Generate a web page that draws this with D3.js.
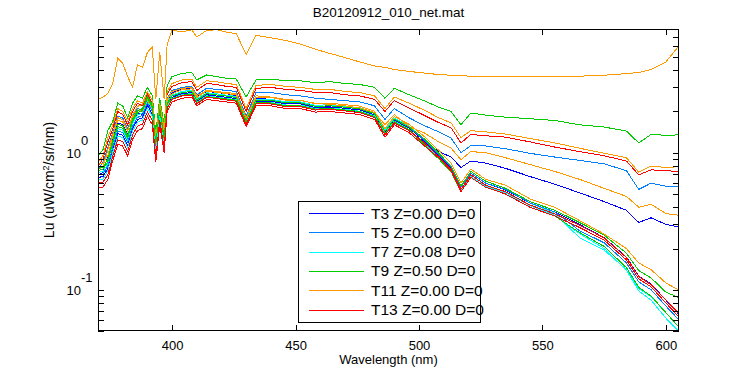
<!DOCTYPE html>
<html>
<head>
<meta charset="utf-8">
<script src="https://cdn.jsdelivr.net/npm/d3@7"></script>
<style>
body { margin: 0; background: #fff; }
text { font-family: "Liberation Sans", Arial, sans-serif; fill: #000; }
</style>
</head>
<body>
<svg width="750" height="375"></svg>
<script>
// wavelength grid (nm) shared by all casts
var wavelength = [370, 372, 374, 376, 378, 380, 382, 384, 386, 388, 390, 392, 393.4, 395, 396.8, 398,
	400, 404, 408, 410, 414, 418, 422, 426, 430, 434, 440, 446, 452, 458, 464, 470, 476, 482, 486.2, 490, 496,
	502, 508, 513, 517, 521, 527, 535, 545, 555, 565, 575, 584, 589, 594, 600, 605];

// Lu per cast
var t3 = [0.68,0.72,0.95,1.25,1.65,1.6,1.35,1.7,1.95,1.9,2.35,2.0,1.0,1.9,1.2,2.4,
	2.75,2.9,2.95,2.55,2.8,2.75,2.7,2.6,1.75,2.5,2.45,2.35,2.3,2.2,2.15,2.05,1.98,1.85,1.45,1.75,1.45,
	1.2,1.02,0.93,0.78,0.87,0.84,0.77,0.67,0.59,0.51,0.44,0.38,0.31,0.335,0.3,0.288];
var t5 = [0.75,0.85,1.1,1.4,1.85,1.8,1.5,1.85,2.1,2.05,2.5,2.15,1.1,2.05,1.3,2.5,
	2.85,3.0,3.05,2.65,2.95,2.9,2.85,2.8,1.85,2.75,2.75,2.65,2.6,2.5,2.45,2.4,2.35,2.2,1.75,2.1,1.8,
	1.58,1.42,1.28,1.0,1.13,1.12,1.07,0.99,0.93,0.88,0.83,0.74,0.54,0.6,0.57,0.565];
var t7 = [0.72,0.73,0.83,1.14,1.5,1.46,1.24,1.63,1.89,1.95,2.4,2.08,1.1,2.08,1.3,2.36,
	2.63,2.8,2.86,2.46,2.74,2.69,2.63,2.58,1.74,2.46,2.46,2.35,2.35,2.22,2.24,2.18,2.13,1.96,1.46,1.79,1.57,
	1.24,0.97,0.79,0.56,0.71,0.6,0.54,0.43,0.36,0.24,0.195,0.14,0.102,0.089,0.068,0.054];
var t9 = [0.95,1.05,1.45,1.7,2.3,2.2,1.8,2.3,2.6,2.5,3.0,2.6,1.4,2.5,1.6,3.1,
	3.6,3.8,3.85,3.4,3.7,3.6,3.5,3.45,2.55,3.4,3.45,3.35,3.35,3.25,3.3,3.2,3.15,3.0,2.5,2.95,2.65,
	2.4,2.15,2.0,1.6,1.95,1.88,1.82,1.77,1.72,1.6,1.54,1.44,1.18,1.36,1.34,1.35];
var t11 = [2.45,2.55,2.7,3.2,4.9,4.5,3.6,3.0,4.4,4.2,5.4,5.9,2.45,5.4,2.45,6.2,
	7.9,7.6,7.9,7.0,7.8,7.9,7.6,7.4,5.2,7.2,6.9,6.6,6.2,5.7,5.3,4.95,4.6,4.3,4.2,4.05,3.92,
	3.82,3.72,3.68,3.65,3.62,3.6,3.58,3.58,3.6,3.62,3.68,3.78,3.85,4.05,4.6,5.95];
var t13 = [0.8,0.9,1.2,1.5,2.0,1.9,1.6,2.0,2.3,2.2,2.7,2.3,1.2,2.2,1.4,2.7,
	3.05,3.25,3.3,2.85,3.2,3.15,3.05,3.0,2.0,2.95,3.0,2.9,2.85,2.75,2.75,2.65,2.6,2.45,2.0,2.4,2.12,
	1.88,1.66,1.52,1.18,1.36,1.33,1.3,1.2,1.1,1.02,0.95,0.87,0.69,0.75,0.74,0.73];
var t15 = [0.85,0.95,1.3,1.6,2.1,2.0,1.7,2.1,2.4,2.3,2.8,2.4,1.3,2.3,1.5,2.8,
	3.2,3.4,3.45,3.0,3.35,3.3,3.2,3.15,2.1,3.1,3.15,3.05,3.0,2.9,2.9,2.8,2.75,2.6,2.1,2.55,2.3,
	2.05,1.8,1.65,1.29,1.45,1.42,1.37,1.27,1.18,1.08,0.99,0.92,0.72,0.8,0.78,0.79];
var t17 = [0.75,0.8,1.05,1.35,1.8,1.75,1.45,1.8,2.05,2.0,2.45,2.1,1.05,2.0,1.25,2.45,
	2.8,2.95,3.0,2.6,2.85,2.8,2.75,2.7,1.8,2.6,2.55,2.45,2.4,2.3,2.25,2.2,2.12,1.97,1.6,1.9,1.55,
	1.4,1.2,1.08,0.89,1.02,1.0,0.92,0.82,0.73,0.64,0.55,0.48,0.40,0.42,0.36,0.35];
var t19 = [0.66,0.67,0.77,1.06,1.38,1.34,1.14,1.5,1.74,1.8,2.22,1.92,1.02,1.92,1.2,2.25,
	2.54,2.7,2.75,2.38,2.65,2.59,2.54,2.48,1.67,2.38,2.38,2.27,2.27,2.14,2.16,2.11,2.05,1.89,1.40,1.73,1.51,
	1.23,0.96,0.78,0.56,0.71,0.6,0.535,0.43,0.37,0.30,0.24,0.173,0.126,0.11,0.084,0.067];
var t21 = [0.69,0.70,0.80,1.10,1.44,1.40,1.19,1.56,1.81,1.88,2.31,2.0,1.06,2.0,1.25,2.3,
	2.59,2.75,2.8,2.42,2.7,2.64,2.59,2.53,1.7,2.42,2.42,2.31,2.31,2.18,2.2,2.15,2.09,1.93,1.43,1.76,1.54,
	1.24,0.97,0.79,0.56,0.71,0.6,0.54,0.43,0.37,0.27,0.22,0.157,0.114,0.1,0.076,0.061];
var t23 = [0.63,0.64,0.74,1.01,1.32,1.29,1.09,1.44,1.67,1.73,2.13,1.84,0.98,1.84,1.15,2.2,
	2.49,2.65,2.7,2.33,2.6,2.54,2.49,2.44,1.64,2.33,2.33,2.23,2.23,2.1,2.12,2.07,2.01,1.86,1.38,1.7,1.48,
	1.17,0.92,0.74,0.53,0.67,0.57,0.51,0.41,0.35,0.257,0.2,0.139,0.098,0.084,0.062,0.05];
var t25 = [0.77,0.78,0.9,1.23,1.61,1.57,1.33,1.75,2.03,2.1,2.59,2.24,1.19,2.08,1.25,2.3,
	2.47,2.63,2.68,2.31,2.57,2.52,2.47,2.42,1.63,2.31,2.31,2.2,2.2,2.08,2.1,2.05,2.0,1.84,1.37,1.68,1.47,
	1.15,0.9,0.73,0.52,0.66,0.56,0.5,0.4,0.345,0.262,0.207,0.145,0.104,0.09,0.068,0.054];
var t27 = [0.83,0.84,0.96,1.32,1.73,1.68,1.43,1.88,2.18,2.25,2.78,2.4,1.28,2.3,1.4,2.45,
	2.7,2.88,2.93,2.53,2.82,2.76,2.7,2.65,1.78,2.53,2.53,2.42,2.42,2.28,2.3,2.24,2.19,2.01,1.5,1.84,1.61,
	1.32,1.04,0.84,0.6,0.76,0.64,0.58,0.46,0.4,0.32,0.255,0.2,0.157,0.14,0.112,0.1];
var t29 = [0.74,0.76,0.86,1.19,1.55,1.51,1.28,1.69,1.96,2.03,2.5,2.16,1.15,2.1,1.3,2.3,
	2.59,2.75,2.8,2.42,2.7,2.64,2.59,2.53,1.7,2.42,2.42,2.31,2.31,2.18,2.2,2.15,2.09,1.93,1.43,1.76,1.54,
	1.27,0.99,0.8,0.57,0.73,0.62,0.55,0.44,0.38,0.31,0.25,0.185,0.138,0.122,0.096,0.088];
var t31 = [0.60,0.61,0.69,0.95,1.24,1.21,1.02,1.35,1.56,1.62,1.98,1.72,0.92,1.72,1.08,2.12,
	2.45,2.6,2.64,2.28,2.54,2.49,2.43,2.38,1.61,2.28,2.27,2.17,2.17,2.05,2.07,2.02,1.96,1.81,1.35,1.65,1.45,
	1.19,0.94,0.76,0.54,0.69,0.58,0.52,0.415,0.358,0.296,0.239,0.172,0.125,0.109,0.084,0.068];
var t33 = [0.55,0.56,0.64,0.88,1.15,1.12,0.95,1.25,1.45,1.50,1.85,1.60,0.85,1.60,1.00,2.00,
	2.35,2.50,2.55,2.20,2.45,2.40,2.35,2.30,1.55,2.20,2.20,2.10,2.10,1.98,2.00,1.95,1.90,1.75,1.30,1.60,1.40,
	1.13,0.92,0.74,0.52,0.66,0.56,0.50,0.40,0.345,0.285,0.23,0.165,0.12,0.105,0.08,0.064];

var series = [t3, t5, t7, t9, t11, t13, t15, t17, t19, t21, t23, t25, t27, t29, t31, t33];
var seriesColors = ["#0000ff", "#0080ff", "#00ffff", "#00cc00", "#ff9900", "#ff0000",
	"#ff9900", "#ff9900", "#0000ff", "#0080ff", "#00ffff", "#00cc00", "#ff9900", "#00cc00", "#ff0000", "#ff0000"];
var legendLabels = ["T3 Z=0.00 D=0", "T5 Z=0.00 D=0", "T7 Z=0.08 D=0", "T9 Z=0.50 D=0", "T11 Z=0.00 D=0", "T13 Z=0.00 D=0"];

var xTicks = [400, 450, 500, 550, 600];
var yTicks = [0.05, 0.06, 0.07, 0.08, 0.09, 0.1, 0.2, 0.3, 0.4, 0.5, 0.6, 0.7, 0.8, 0.9, 1, 2, 3, 4, 5, 6, 7, 8];
var yDecades = [-1, 0];

var svg = d3.select("svg");
var plotL = 98, plotR = 679, plotT = 29, plotB = 331;

var x = d3.scaleLinear().domain([370, 605.3]).range([plotL, plotR]);
var y = d3.scaleLog().domain([0.05, 8]).range([plotB, plotT]);

svg.append("defs").append("clipPath").attr("id", "plotclip")
	.append("rect")
	.attr("x", plotL).attr("y", plotT)
	.attr("width", plotR - plotL).attr("height", plotB - plotT);

// spectra
var line = d3.line()
	.x(function(d, i) { return x(wavelength[i]); })
	.y(function(d) { return y(d); });

svg.append("g")
	.attr("clip-path", "url(#plotclip)")
	.selectAll("path")
	.data(series)
	.enter().append("path")
	.attr("d", line)
	.attr("fill", "none")
	.attr("stroke", function(d, i) { return seriesColors[i]; })
	.attr("stroke-width", 1)
	.attr("shape-rendering", "crispEdges");

// axes, ticks pointing inside
function styleAxis(g) {
	g.select(".domain").remove();
	g.selectAll(".tick line").attr("stroke", "#000").attr("shape-rendering", "crispEdges");
	g.selectAll("text").style("font-size", "13px").attr("fill", "#000");
	g.attr("font-family", null);
}

svg.append("g")
	.attr("transform", "translate(0," + plotB + ")")
	.call(d3.axisBottom(x).tickValues(xTicks).tickSizeInner(-6).tickSizeOuter(0).tickPadding(10).tickFormat(d3.format("d")))
	.call(styleAxis);

svg.append("g")
	.attr("transform", "translate(0," + plotT + ")")
	.call(d3.axisTop(x).tickValues(xTicks).tickSizeInner(-6).tickSizeOuter(0).tickFormat(""))
	.call(styleAxis);

svg.append("g")
	.attr("transform", "translate(" + plotL + ",0)")
	.call(d3.axisLeft(y).tickValues(yTicks).tickSizeInner(-6).tickSizeOuter(0).tickFormat(""))
	.call(styleAxis);

svg.append("g")
	.attr("transform", "translate(" + plotR + ",0)")
	.call(d3.axisRight(y).tickValues(yTicks).tickSizeInner(-6).tickSizeOuter(0).tickFormat(""))
	.call(styleAxis);

svg.append("rect")
	.attr("x", plotL + 0.5).attr("y", plotT + 0.5)
	.attr("width", plotR - plotL - 1).attr("height", plotB - plotT - 1)
	.attr("fill", "none").attr("stroke", "#000").attr("stroke-width", 1);

// decade labels 10^n
svg.append("g").selectAll("text")
	.data(yDecades)
	.enter().append("text")
	.attr("x", 81)
	.attr("y", function(d) { return y(Math.pow(10, d)) + 5; })
	.attr("text-anchor", "end")
	.style("font-size", "13px")
	.text("10");

svg.append("g").selectAll("text")
	.data(yDecades)
	.enter().append("text")
	.attr("x", 81)
	.attr("y", function(d) { return y(Math.pow(10, d)) - 8; })
	.style("font-size", "13px")
	.text(function(d) { return d; });

// title and axis labels
svg.append("text")
	.attr("x", (plotL + plotR) / 2).attr("y", 17)
	.attr("text-anchor", "middle")
	.style("font-size", "13.5px")
	.text("B20120912_010_net.mat");

svg.append("text")
	.attr("x", (plotL + plotR) / 2).attr("y", 364)
	.attr("text-anchor", "middle")
	.style("font-size", "13px")
	.text("Wavelength (nm)");

var ylab = svg.append("text")
	.attr("transform", "translate(54," + ((plotT + plotB) / 2) + ") rotate(-90)")
	.attr("text-anchor", "middle")
	.style("font-size", "14px");
ylab.append("tspan").text("Lu (uW/cm");
ylab.append("tspan").attr("dy", -5).style("font-size", "9px").text("2");
ylab.append("tspan").attr("dy", 5).text("/sr/nm)");

// legend
var legend = svg.append("g");
legend.append("rect")
	.attr("x", 298.5).attr("y", 201.5)
	.attr("width", 182).attr("height", 121)
	.attr("fill", "#fff").attr("stroke", "#000").attr("stroke-width", 1);

var rows = legend.selectAll("g.row")
	.data(legendLabels)
	.enter().append("g")
	.attr("class", "row")
	.attr("transform", function(d, i) { return "translate(0," + (213 + i * 19.3) + ")"; });

rows.append("line")
	.attr("x1", 309).attr("x2", 364)
	.attr("y1", 0.5).attr("y2", 0.5)
	.attr("stroke", function(d, i) { return seriesColors[i]; })
	.attr("shape-rendering", "crispEdges");

rows.append("text")
	.attr("x", 371).attr("y", 5.5)
	.style("font-size", "15.5px")
	.text(function(d) { return d; });
</script>
</body>
</html>
